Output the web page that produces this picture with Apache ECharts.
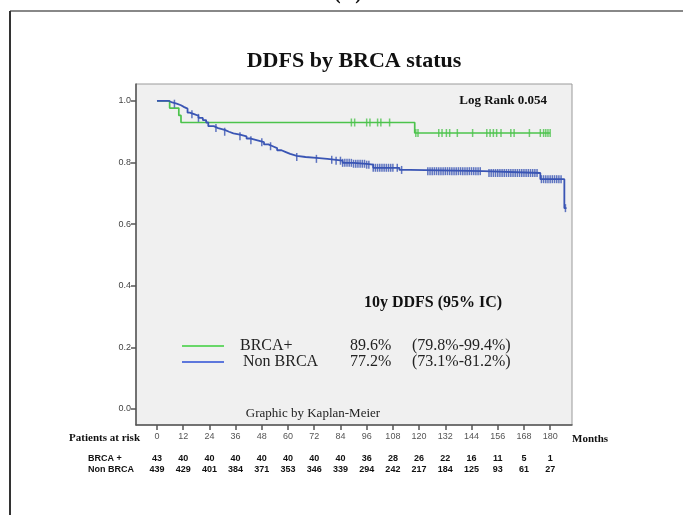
<!DOCTYPE html>
<html>
<head>
<meta charset="utf-8">
<script src="https://cdn.jsdelivr.net/npm/echarts@6/dist/echarts.min.js"></script>
<style>
  html, body { margin: 0; padding: 0; background: #fff; }
  #chart { width: 683px; height: 515px; }
</style>
</head>
<body>
<div id="chart"></div>
<script>
// Kaplan-Meier step curves: time (months) where survival changes, and the survival from then on
const brcaTimes = [0, 5.8, 10, 11, 118, 180];
const brcaSurv  = [1.0, 0.977, 0.953, 0.930, 0.896, 0.896];

const nonTimes = [0, 5.5, 7, 9, 11, 12.5, 14, 15, 17, 19, 21, 22.5, 23.5, 26, 28, 31, 33, 35, 38, 41, 43, 46, 49, 51, 53, 55, 57, 59, 61, 64, 68, 73, 78, 82, 85, 90, 96, 99, 111, 116, 149.5, 175.5, 186.5, 187.5];
const nonSurv  = [1.0, 0.995, 0.991, 0.986, 0.980, 0.975, 0.962, 0.957, 0.952, 0.945, 0.938, 0.930, 0.918, 0.912, 0.906, 0.900, 0.895, 0.891, 0.885, 0.878, 0.872, 0.866, 0.859, 0.853, 0.847, 0.840, 0.834, 0.828, 0.822, 0.818, 0.815, 0.812, 0.809, 0.806, 0.799, 0.796, 0.793, 0.783, 0.776, 0.772, 0.766, 0.746, 0.652, 0.652];

// censored observations (months)
const brcaCensor = [89, 90.5, 96, 97.5, 101, 102.5, 106.5, 118.5, 119.5, 129, 130.5, 132.5, 134, 137.5, 144.5, 151, 152.5, 154, 155.5, 157.5, 162, 163.5, 170.5, 175.5, 177, 178, 179, 180];
const nonCensor = [8, 16, 19, 27, 31, 38, 43, 48, 52, 64, 73, 80, 82, 84, 85, 86, 87, 88, 89, 90, 91, 92, 93, 94, 95, 96, 97, 99, 100, 101, 102, 103, 104, 105, 106, 107, 108, 110, 112, 124, 125, 126, 127, 128, 129, 130, 131, 132, 133, 134, 135, 136, 137, 138, 139, 140, 141, 142, 143, 144, 145, 146, 147, 148, 152, 153, 154, 155, 156, 157, 158, 159, 160, 161, 162, 163, 164, 165, 166, 167, 168, 169, 170, 171, 172, 173, 174, 176, 177, 178, 179, 180, 181, 182, 183, 184, 185, 187];

// axis ticks
const monthTicks = [0, 12, 24, 36, 48, 60, 72, 84, 96, 108, 120, 132, 144, 156, 168, 180];
const survTicks = [0, 0.2, 0.4, 0.6, 0.8, 1.0];

// patients at risk at each month tick
const riskBrca = [43, 40, 40, 40, 40, 40, 40, 40, 36, 28, 26, 22, 16, 11, 5, 1];
const riskNon  = [439, 429, 401, 384, 371, 353, 346, 339, 294, 242, 217, 184, 125, 93, 61, 27];

// 10-year estimates
const groupNames = ['BRCA+', 'Non BRCA'];
const riskNames = ['BRCA +', 'Non BRCA'];
const tenYear = ['89.6%', '77.2%'];
const tenYearCI = ['(79.8%-99.4%)', '(73.1%-81.2%)'];

const GREEN = '#4cc34c';
const BLUE = '#3a55b4';
const SERIF = '"Liberation Serif", "Times New Roman", serif';
const SANS = '"Liberation Sans", Arial, sans-serif';

function survAt(times, surv, t) {
  let s = surv[0];
  for (let i = 0; i < times.length; i++) { if (times[i] <= t) s = surv[i]; }
  return s;
}
const pair = (xs, ys) => xs.map((x, i) => [x, ys[i]]);

const chart = echarts.init(document.getElementById('chart'), null, { renderer: 'canvas' });

const option = {
  animation: false,
  backgroundColor: '#fff',
  grid: {
    left: 136, top: 84, width: 436, height: 341,
    show: true, backgroundColor: '#f0f0f0', borderColor: '#9a9a9a', borderWidth: 1
  },
  xAxis: {
    type: 'value', min: -9.6, max: 190,
    axisLine: { show: true, onZero: false, lineStyle: { color: '#555', width: 1.5 } },
    axisTick: { show: true, customValues: monthTicks, length: 5, lineStyle: { color: '#555', width: 1.5 } },
    axisLabel: { customValues: monthTicks, fontSize: 9, color: '#555', fontFamily: SANS, margin: 7 },
    splitLine: { show: false }
  },
  yAxis: {
    type: 'value', min: -0.052, max: 1.055,
    axisLine: { show: true, onZero: false, lineStyle: { color: '#555', width: 1.5 } },
    axisTick: { show: true, customValues: survTicks, length: 5, lineStyle: { color: '#555', width: 1.5 } },
    axisLabel: { customValues: survTicks, fontSize: 9, color: '#444', fontFamily: SANS, margin: 5,
                 formatter: v => v.toFixed(1) },
    splitLine: { show: false }
  },
  series: [
    { name: groupNames[0], type: 'line', step: 'end', data: pair(brcaTimes, brcaSurv),
      showSymbol: false, lineStyle: { color: GREEN, width: 1.7 }, z: 3 },
    { name: groupNames[1], type: 'line', step: 'end', data: pair(nonTimes, nonSurv),
      showSymbol: false, lineStyle: { color: BLUE, width: 1.8 }, z: 4 },
    { type: 'scatter', data: brcaCensor.map(t => [t, survAt(brcaTimes, brcaSurv, t)]),
      symbol: 'rect', symbolSize: [1.5, 8], itemStyle: { color: GREEN }, z: 3 },
    { type: 'scatter', data: nonCensor.map(t => [t, survAt(nonTimes, nonSurv, t)]),
      symbol: 'rect', symbolSize: [1.5, 8], itemStyle: { color: BLUE }, z: 4 }
  ]
};
chart.setOption(option);

// Text, legend and risk table drawn around the plot
const g = [];
const txt = (x, y, text, o) => g.push({ type: 'text', x, y, silent: true,
  style: Object.assign({ text, fill: '#111', fontFamily: SERIF, fontSize: 12, align: 'left', verticalAlign: 'middle' }, o || {}) });

// outer panel frame
g.push({ type: 'line', shape: { x1: 10, y1: 11, x2: 683, y2: 11 }, style: { stroke: '#888', lineWidth: 2 } });
g.push({ type: 'line', shape: { x1: 10, y1: 11, x2: 10, y2: 515 }, style: { stroke: '#333', lineWidth: 2 } });
txt(348, 4, '(A)', { fontSize: 20, fontWeight: 'bold', align: 'center', verticalAlign: 'bottom' });

txt(354, 61, 'DDFS by BRCA status', { fontSize: 22, fontWeight: 'bold', align: 'center' });
txt(547, 101, 'Log Rank 0.054', { fontSize: 13, fontWeight: 'bold', align: 'right' });
txt(433, 303, '10y DDFS (95% IC)', { fontSize: 16, fontWeight: 'bold', align: 'center' });

const legendY = [346, 362];
const legendCol = ['#3ccf3c', '#2c4fd6'];
legendY.forEach((y, i) => {
  g.push({ type: 'line', shape: { x1: 182, y1: y, x2: 224, y2: y }, style: { stroke: legendCol[i], lineWidth: 1.5 } });
  txt(i === 0 ? 240 : 243, y, groupNames[i], { fontSize: 16, fill: '#222' });
  txt(350, y, tenYear[i], { fontSize: 16, fill: '#222' });
  txt(412, y, tenYearCI[i], { fontSize: 16, fill: '#222' });
});

txt(313, 414, 'Graphic by Kaplan-Meier', { fontSize: 13, align: 'center', fill: '#222' });
txt(140, 438, 'Patients at risk', { fontSize: 11, fontWeight: 'bold', align: 'right' });
txt(572, 439, 'Months', { fontSize: 11, fontWeight: 'bold' });

const rowsY = [459, 470];
[riskBrca, riskNon].forEach((row, r) => {
  txt(88, rowsY[r], riskNames[r], { fontFamily: SANS, fontSize: 9, fontWeight: 'bold' });
  row.forEach((n, i) => {
    const px = chart.convertToPixel({ gridIndex: 0 }, [monthTicks[i], 0])[0];
    txt(px, rowsY[r], String(n), { fontFamily: SANS, fontSize: 9, fontWeight: 'bold', align: 'center' });
  });
});

chart.setOption({ graphic: { elements: g } });
</script>
</body>
</html>
